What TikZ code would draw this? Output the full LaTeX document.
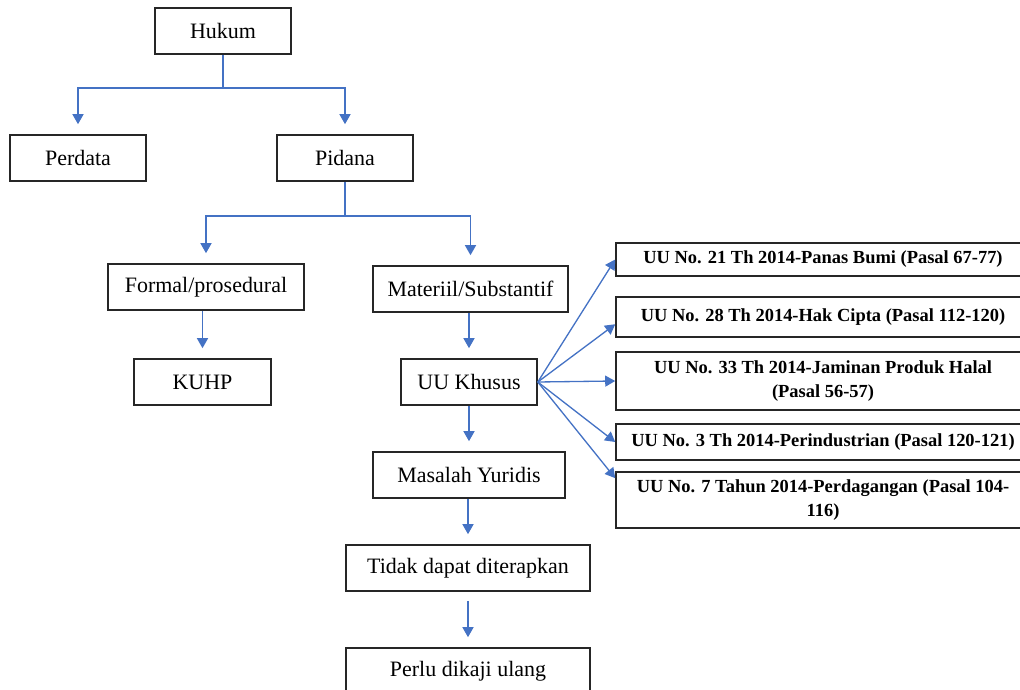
\documentclass[tikz,border=0pt]{standalone}
\usepackage{fontspec}
\setmainfont{Liberation Serif}
\usetikzlibrary{arrows.meta}

\definecolor{linkblue}{RGB}{68,114,196}
\definecolor{boxline}{RGB}{38,38,38}

\begin{document}
\begin{tikzpicture}[
        box/.style={draw=boxline, line width=0.9pt, minimum height=0.92cm, inner sep=0pt,
            font=\fontsize{12.5}{15}\selectfont},
        law/.style={draw=boxline, line width=0.9pt, minimum width=8.28cm, inner sep=0pt,
            align=center, font=\fontsize{10.5}{13.7}\selectfont\bfseries},
        line/.style={draw=linkblue, line width=0.75pt},
        link/.style={line, -{Triangle[width=0.22cm, length=0.2cm]}, shorten >=0.2cm}
    ]

        \useasboundingbox (0, 0) rectangle (20.4, -13.8);
        \clip (0, 0) rectangle (20.4, -13.8);

        \node (hukum) at (4.46, -0.62) [box, minimum width=2.72cm] {Hukum};

        \node (perdata) at (1.56, -3.16) [box, minimum width=2.72cm] {Perdata};
        \node (pidana) at (6.90, -3.16) [box, minimum width=2.72cm] {Pidana};

        \node (formal) at (4.12, -5.74) [box, minimum width=3.92cm] {Formal/prosedural};
        \node (materiil) at (9.41, -5.78) [box, minimum width=3.90cm] {Materiil/Substantif};

        \node (kuhp) at (4.05, -7.64) [box, minimum width=2.74cm] {KUHP};
        \node (uukhusus) at (9.38, -7.64) [box, minimum width=2.72cm] {UU Khusus};

        \node (masalah) at (9.38, -9.50) [box, minimum width=3.84cm] {Masalah Yuridis};
        \node (tidak) at (9.36, -11.36) [box, minimum width=4.88cm] {Tidak dapat diterapkan};
        \node (perlu) at (9.36, -13.42) [box, minimum width=4.88cm] {Perlu dikaji ulang};

        \node (uu-1) at (16.46, -5.19) [law, minimum height=0.66cm] {UU No. 21 Th 2014-Panas Bumi (Pasal 67-77)};
        \node (uu-2) at (16.46, -6.34) [law, minimum height=0.80cm] {UU No. 28 Th 2014-Hak Cipta (Pasal 112-120)};
        \node (uu-3) at (16.46, -7.62) [law, minimum height=1.16cm] {UU No. 33 Th 2014-Jaminan Produk Halal\\(Pasal 56-57)};
        \node (uu-4) at (16.46, -8.84) [law, minimum height=0.72cm] {UU No. 3 Th 2014-Perindustrian (Pasal 120-121)};
        \node (uu-5) at (16.46, -10.00) [law, minimum height=1.12cm] {UU No. 7 Tahun 2014-Perdagangan (Pasal 104-\\116)};

        \draw[line] (hukum.south) -- (4.46, -1.76) coordinate (j1);
        \draw[link] (j1) -| (perdata.north);
        \draw[link] (j1) -| (pidana.north);

        \draw[line] (pidana.south) -- (6.90, -4.32) coordinate (j2);
        \draw[link] (j2) -| (formal.north);
        \draw[link] (j2) -| (materiil.north);

        \draw[link] (formal.south -| kuhp) -- (kuhp.north);
        \draw[link] (materiil.south -| uukhusus) -- (uukhusus.north);
        \draw[link] (uukhusus.south) -- (uukhusus.south |- masalah.north);
        \draw[link] (masalah.south -| tidak) -- (tidak.north);
        \draw[link, shorten <=0.18cm] (tidak.south) -- (perlu.north);

        \draw[link, shorten >=0pt] (uukhusus.east) -- (uu-1.west);
        \draw[link, shorten >=0pt] (uukhusus.east) -- (uu-2.182);
        \draw[link, shorten >=0pt] (uukhusus.east) -- (uu-3.west);
        \draw[link, shorten >=0pt] (uukhusus.east) -- (uu-4.west);
        \draw[link, shorten >=0pt] (uukhusus.east) -- (uu-5.174.8);

    \end{tikzpicture}
\end{document}
